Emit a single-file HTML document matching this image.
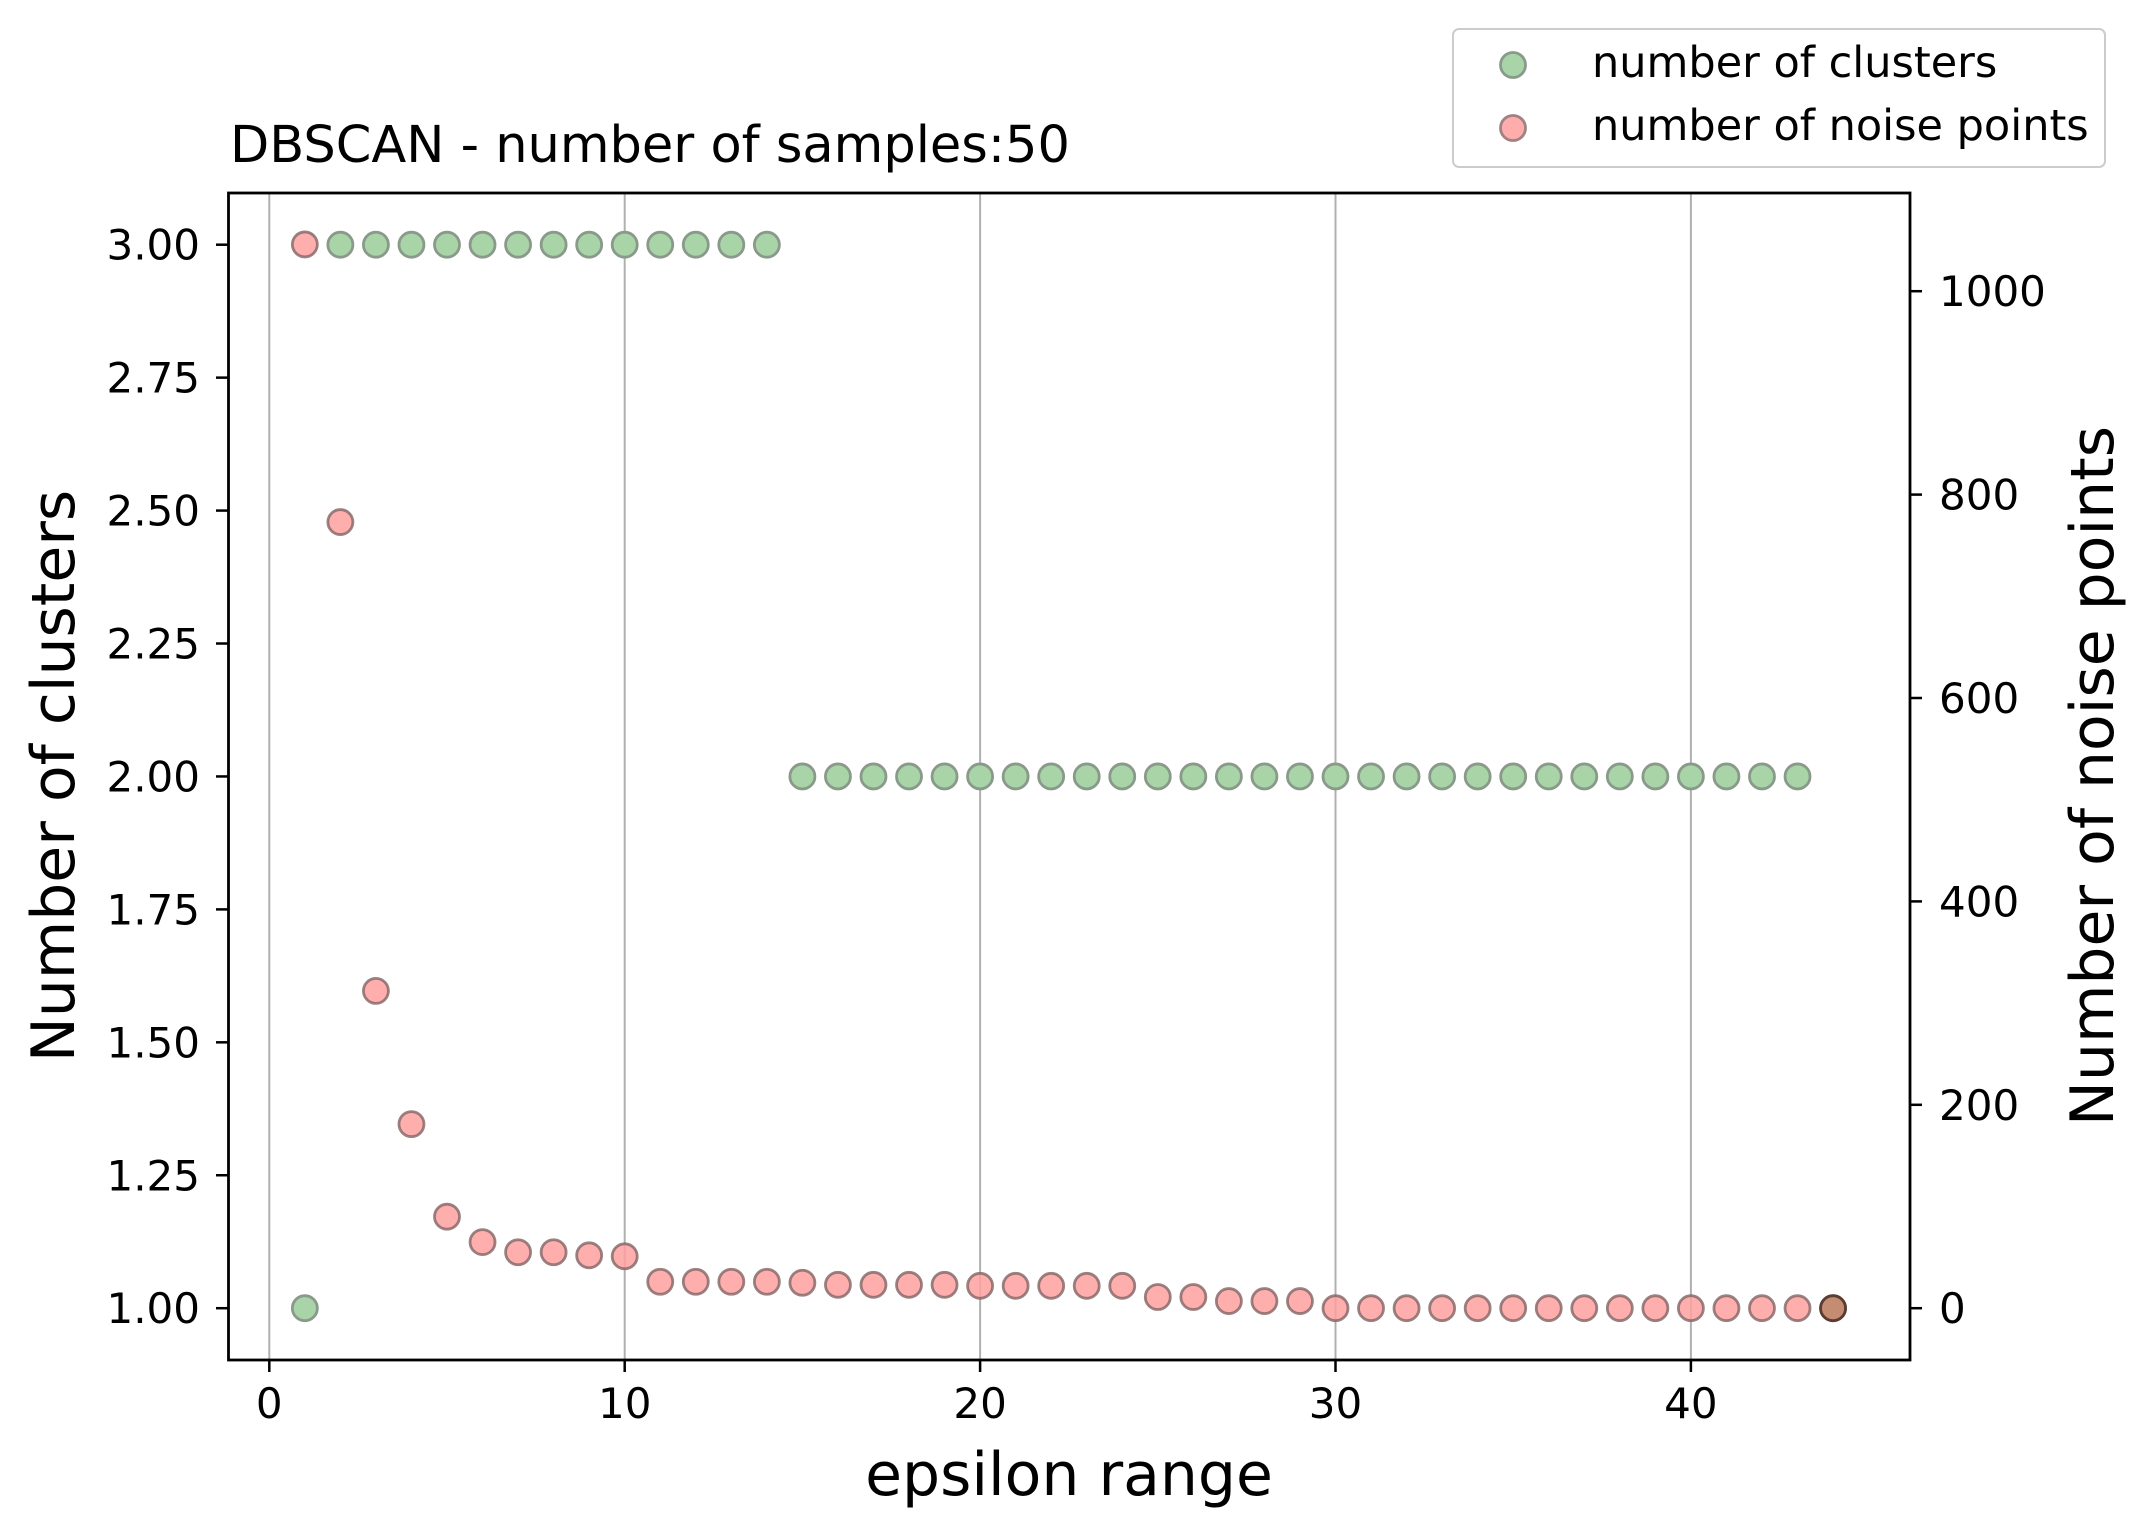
<!DOCTYPE html>
<html><head><meta charset="utf-8"><style>
html,body{margin:0;padding:0;background:#fff;}
svg{display:block;font-family:"DejaVu Sans","Liberation Sans",sans-serif;}
</style></head><body>
<svg id="chart" width="2143" height="1532" viewBox="0 0 2143 1532">
<g id="grid"></g>
<g id="marks"></g>
<rect x="228.5" y="193" width="1681.5" height="1167" fill="none" stroke="#000" stroke-width="2.8"/>
<g id="axes"></g>
<text x="230" y="162" font-size="51" fill="#000">DBSCAN - number of samples:50</text>
<text x="1069" y="1495" font-size="60" text-anchor="middle" fill="#000">epsilon range</text>
<text transform="translate(74,776) rotate(-90)" font-size="60" text-anchor="middle" fill="#000">Number of clusters</text>
<text transform="translate(2113,776) rotate(-90)" font-size="60" text-anchor="middle" fill="#000">Number of noise points</text>
<g>
<rect x="1453" y="29" width="652" height="138" rx="6" fill="#fff" stroke="#ccc" stroke-width="2"/>
<circle cx="1513" cy="65" r="12.5" fill="rgb(168,212,168)" stroke="#8a9a8a" stroke-width="2.8"/>
<text x="1592" y="77" font-size="43" fill="#000">number of clusters</text>
<circle cx="1513" cy="128" r="12.5" fill="rgb(255,172,172)" stroke="#a08282" stroke-width="2.8"/>
<text x="1592" y="140" font-size="43" fill="#000">number of noise points</text>
</g>
</svg>
<script>
const epsilon = [1,2,3,4,5,6,7,8,9,10,11,12,13,14,15,16,17,18,19,20,21,22,23,24,25,26,27,28,29,30,31,32,33,34,35,36,37,38,39,40,41,42,43,44];
const clusters = [1,3,3,3,3,3,3,3,3,3,3,3,3,3,2,2,2,2,2,2,2,2,2,2,2,2,2,2,2,2,2,2,2,2,2,2,2,2,2,2,2,2,2,1];
const noise = [1046,773,312,181,90,65,55,55,52,51,26,26,26,26,25,23,23,23,23,22,22,22,22,22,11,11,7,7,7,0,0,0,0,0,0,0,0,0,0,0,0,0,0,0];
const xTicks = [0,10,20,30,40];
const yLeftTicks = [1.00,1.25,1.50,1.75,2.00,2.25,2.50,2.75,3.00];
const yRightTicks = [0,200,400,600,800,1000];

const NS = "http://www.w3.org/2000/svg";
const X = v => 269.3 + v * 35.54;
const YL = v => 1308.2 - (v - 1) * 531.75;
const YR = v => 1308.2 - v * 1.017;
function mk(tag, attrs, parent, text) {
  const el = document.createElementNS(NS, tag);
  for (const k in attrs) el.setAttribute(k, attrs[k]);
  if (text !== undefined) el.textContent = text;
  parent.appendChild(el);
  return el;
}
const grid = document.getElementById('grid');
const axes = document.getElementById('axes');
const marks = document.getElementById('marks');
xTicks.forEach(t => {
  const g = mk('line', {x1: X(t), x2: X(t), y1: 193, y2: 1360, stroke: '#b0b0b0', 'stroke-width': 2}, grid);
  
  
  const tk = mk('line', {x1: X(t), x2: X(t), y1: 1360, y2: 1372, stroke: '#000', 'stroke-width': 2.5}, axes);
  
  
  const lb = mk('text', {x: X(t), y: 1418, 'font-size': 42, 'text-anchor': 'middle'}, axes, String(t));
  
  
});
yLeftTicks.forEach(t => {
  const tk = mk('line', {x1: 216, x2: 228, y1: YL(t), y2: YL(t), stroke: '#000', 'stroke-width': 2.5}, axes);
  
  
  const lb = mk('text', {x: 200, y: YL(t) + 15, 'font-size': 42, 'text-anchor': 'end'}, axes, t.toFixed(2));
  
  
});
yRightTicks.forEach(t => {
  const tk = mk('line', {x1: 1910, x2: 1922, y1: YR(t), y2: YR(t), stroke: '#000', 'stroke-width': 2.5}, axes);
  
  
  const lb = mk('text', {x: 1939, y: YR(t) + 15, 'font-size': 42, 'text-anchor': 'start'}, axes, String(t));
  
  
});
epsilon.forEach((e, i) => {
  const c = mk('circle', {cx: X(e), cy: YL(clusters[i]), r: 12.5, fill: 'rgb(168,212,168)', stroke: '#8a9a8a', 'stroke-width': 2.8}, marks);
  
  
});
epsilon.forEach((e, i) => {
  const overlap = Math.abs(YR(noise[i]) - YL(clusters[i])) < 2;
  const c = mk('circle', {cx: X(e), cy: YR(noise[i]), r: 12.5, fill: overlap ? 'rgb(196,140,112)' : 'rgba(255,160,160,0.85)', stroke: overlap ? 'rgb(90,60,50)' : 'rgba(130,100,100,0.8)', 'stroke-width': 2.8}, marks);
  
  
});
</script>
</body></html>
